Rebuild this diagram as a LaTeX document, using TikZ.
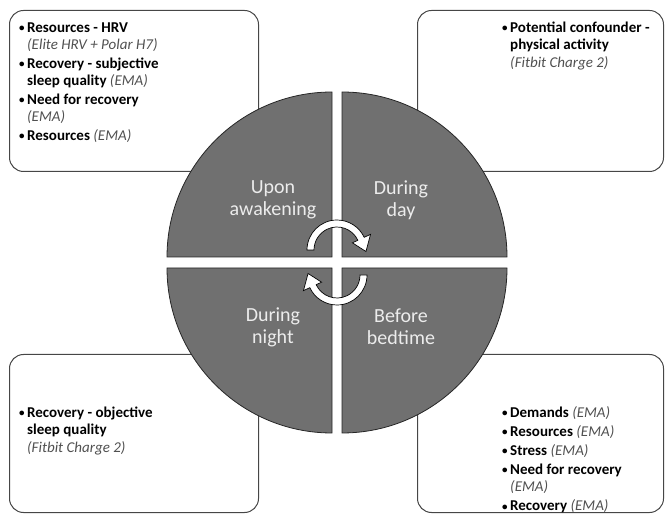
\documentclass[tikz,border=0pt]{standalone}
\usepackage{fontspec}
\setmainfont{Carlito}
\usetikzlibrary{calc}
\definecolor{quad}{RGB}{112,112,112}
\definecolor{boxline}{RGB}{70,70,70}
\definecolor{itgray}{RGB}{80,80,80}
\definecolor{lbl}{RGB}{236,236,236}
\newcommand\bulitem{\par\hangindent=8pt\hangafter=1\noindent\makebox[8pt][l]{\raisebox{0.6pt}{\fontsize{11}{11}\selectfont\textbullet}}}
\newcommand\src[1]{{\color{itgray}\mdseries\itshape #1}}
\begin{document}
\begin{tikzpicture}[x=1pt,y=1pt,
  infobox/.style={draw=boxline, line width=1pt, rounded corners=14pt, anchor=south west, inner sep=0pt},
  quadrant/.style={fill=quad, draw=black!85, line width=0.8pt},
  qlabel/.style={text=lbl, font=\fontsize{20}{22}\selectfont, align=center},
  itemtext/.style={anchor=base west, inner sep=0pt, font=\fontsize{15}{17.5}\selectfont\bfseries},
  cyclearrow/.style={fill=white, draw=black, line width=0.7pt}]
\useasboundingbox (0,0) rectangle (666,514);
% boxes
\node[infobox, minimum width=249pt, minimum height=161pt] (boxTL) at (9,342) {};
\node[infobox, minimum width=246pt, minimum height=161pt] (boxTR) at (417,342) {};
\node[infobox, minimum width=249pt, minimum height=158pt] (boxBL) at (9,1) {};
\node[infobox, minimum width=246pt, minimum height=158pt] (boxBR) at (417,1) {};
% box texts
\node[itemtext] (txtTL) at (19,481.5) {\parbox[t]{220pt}{\setlength{\parskip}{1pt}%
  \bulitem Resources - HRV\\\src{(Elite HRV + Polar H7)}%
  \bulitem Recovery - subjective\\sleep quality \src{(EMA)}%
  \bulitem Need for recovery\\\src{(EMA)}%
  \bulitem Resources \src{(EMA)}}};
\node[itemtext] (txtTR) at (502,481.5) {\parbox[t]{160pt}{\setlength{\parskip}{1pt}%
  \bulitem Potential confounder -\\physical activity\\\src{(Fitbit Charge 2)}}};
\node[itemtext] (txtBL) at (19,96.5) {\parbox[t]{220pt}{\setlength{\parskip}{1pt}%
  \bulitem Recovery - objective\\sleep quality\\\src{(Fitbit Charge 2)}}};
\node[itemtext] (txtBR) at (502,96.5) {\parbox[t]{160pt}{\setlength{\parskip}{1.5pt}%
  \bulitem Demands \src{(EMA)}%
  \bulitem Resources \src{(EMA)}%
  \bulitem Stress \src{(EMA)}%
  \bulitem Need for recovery\\\src{(EMA)}%
  \bulitem Recovery \src{(EMA)}}};
% quadrants
\filldraw[quadrant] (332,257) -- ++(180:165) arc[start angle=180,end angle=90,radius=165] -- cycle;
\filldraw[quadrant] (342,257) -- ++(0:165) arc[start angle=0,end angle=90,radius=165] -- cycle;
\filldraw[quadrant] (332,246) -- ++(180:165) arc[start angle=180,end angle=270,radius=165] -- cycle;
\filldraw[quadrant] (342,246) -- ++(0:165) arc[start angle=0,end angle=-90,radius=165] -- cycle;
% labels
\node[qlabel] (lUA) at (273,314) {Upon\\awakening};
\node[qlabel] (lDD) at (401,314) {During\\day};
\node[qlabel] (lDN) at (273,187) {During\\night};
\node[qlabel] (lBB) at (401,187) {Before\\bedtime};
% cycle arrows
\coordinate (ca) at (337,264);
\coordinate (cb) at (337,239);
\filldraw[cyclearrow] ($(ca)+(180:30)$) arc[start angle=180,end angle=25,radius=30]
  -- ($(ca)+(25:37)$) -- ($(ca)+(-3:29)$) -- ($(ca)+(25:17)$) -- ($(ca)+(25:23)$)
  arc[start angle=25,end angle=180,radius=23] -- cycle;
\filldraw[cyclearrow] ($(cb)+(0:30)$) arc[start angle=0,end angle=-155,radius=30]
  -- ($(cb)+(-155:37)$) -- ($(cb)+(177:29)$) -- ($(cb)+(-155:17)$) -- ($(cb)+(-155:23)$)
  arc[start angle=-155,end angle=0,radius=23] -- cycle;
\end{tikzpicture}
\end{document}
